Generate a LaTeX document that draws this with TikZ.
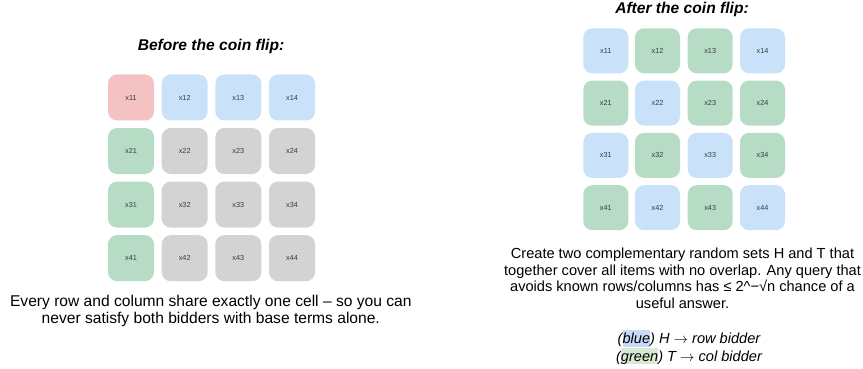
\documentclass[tikz,border=0pt]{standalone}
\usepackage{fontspec}
\setmainfont{Liberation Sans}
\definecolor{cred}{RGB}{244,194,194}
\definecolor{cblue}{RGB}{201,226,250}
\definecolor{cgreen}{RGB}{182,220,198}
\definecolor{cgray}{RGB}{211,211,211}
\definecolor{txtgray}{RGB}{60,60,60}
\definecolor{hlblue}{RGB}{201,218,248}
\definecolor{hlgreen}{RGB}{217,234,211}
\newcommand\hlword[2]{{\setlength{\fboxsep}{0pt}\colorbox{#1}{\rule[-0.212em]{0pt}{1.117em}#2}}}
\newcommand\rarr{\ensuremath{\rightarrow}}
\begin{document}
\begin{tikzpicture}[x=1pt,y=-1pt,
  lcell/.style={rounded corners=9pt, minimum width=46pt, minimum height=46pt, inner sep=0pt, font=\fontsize{7.3}{8}\selectfont, text=txtgray},
  rcell/.style={rounded corners=9pt, minimum width=45pt, minimum height=45pt, inner sep=0pt, font=\fontsize{7.3}{8}\selectfont, text=txtgray},
  title/.style={font=\fontsize{15.6}{18}\selectfont\bfseries\itshape, inner sep=0pt},
  body/.style={align=center, inner sep=0pt}]
\useasboundingbox (0,0) rectangle (863,369);
% left title
\node[title] (ltitle) at (211,46.5) {Before the coin flip:};
% left grid
\foreach \r/\y in {1/97.5,2/151,3/204.6,4/258.2}{
  \foreach \c/\x in {1/131,2/184.7,3/238.3,4/292}{
    \pgfmathsetmacro{\col}{\r==1 ? (\c==1 ? "cred" : "cblue") : (\c==1 ? "cgreen" : "cgray")}
    \node[lcell, fill=\col] (L\r\c) at (\x,\y) {x\r\c};
  }
}
\node[body, font=\fontsize{15.6}{17.5}\selectfont] (ltext) at (210.8,311) {Every row and column share exactly one cell – so you can\\never satisfy both bidders with base terms alone.};
% right title
\node[title] (rtitle) at (682,9.5) {After the coin flip:};
% right grid
\def\rcolors{{"cblue","cgreen","cgreen","cblue","cgreen","cblue","cgreen","cgreen","cblue","cgreen","cblue","cgreen","cgreen","cblue","cgreen","cblue"}}
\foreach \r/\y in {1/50.8,2/103.1,3/155.4,4/207.7}{
  \foreach \c/\x in {1/605.8,2/657.5,3/710.2,4/762.5}{
    \pgfmathsetmacro{\idx}{int((\r-1)*4+\c-1)}
    \pgfmathsetmacro{\col}{\rcolors[\idx]}
    \node[rcell, fill=\col] (R\r\c) at (\x,\y) {x\r\c};
  }
}
\node[body, font=\fontsize{14.6}{16.8}\selectfont] (rtext) at (682.5,278.2) {Create two complementary random sets H and T that\\together cover all items with no overlap. Any query that\\avoids known rows/columns has ≤ 2\^{}−√n chance of a\\useful answer.};
\node[body, font=\fontsize{14.6}{16.3}\selectfont\itshape] (legend) at (689,347.3) {(\hlword{hlblue}{blue}) H \rarr{} row bidder\\(\hlword{hlgreen}{green}) T \rarr{} col bidder};
\end{tikzpicture}
\end{document}
